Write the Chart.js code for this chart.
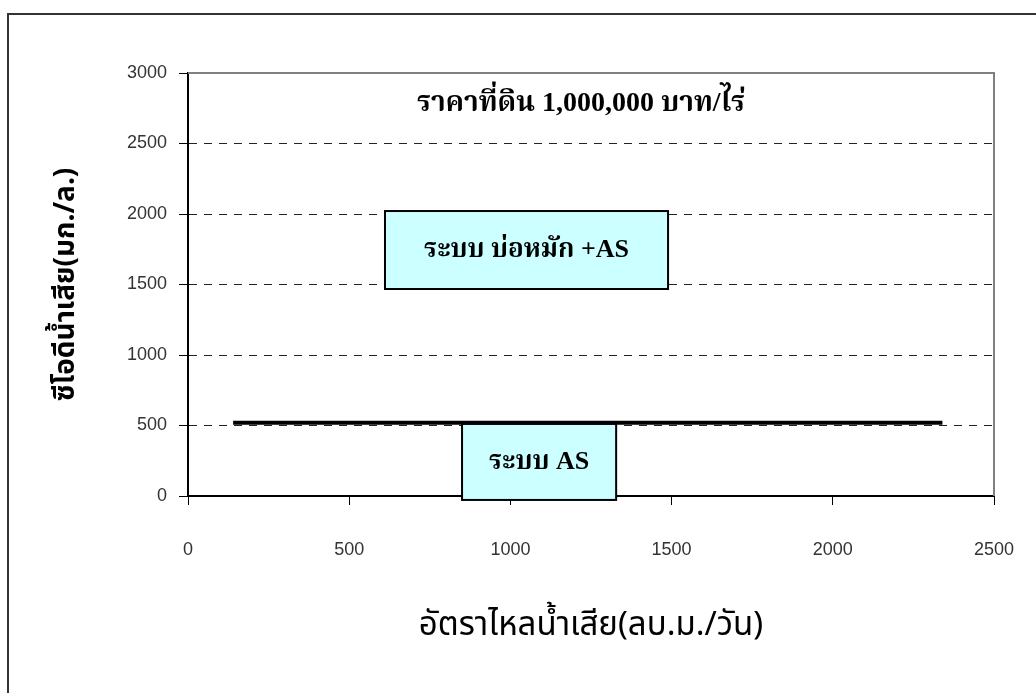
<!DOCTYPE html>
<html>
<head>
<meta charset="utf-8">
<script src="https://cdn.jsdelivr.net/npm/chart.js@4.4.1/dist/chart.umd.min.js"></script>
<style>
  html, body { margin: 0; padding: 0; background: #fff; overflow: hidden; }
  #frame { position: absolute; left: 7px; top: 13px; width: 1100px; height: 800px; border: 2px solid #333; }
  #wrap { position: absolute; left: 0; top: 0; width: 1036px; height: 693px; }
</style>
</head>
<body>
<div id="frame"></div>
<div id="wrap"><canvas id="chart" width="1036" height="693"></canvas></div>
<script>
// limit line (COD ~520 mg/l across the flow range)
const lineFlow = [140, 2340]
const lineCod = [520, 520]

// text boxes: label, x range (flow), y range (COD)
const boxLabels = ["ระบบ บ่อหมัก +AS", "ระบบ AS"]
const boxFlow = [[611, 1489], [850, 1328]]
const boxCod = [[1468, 2021], [-28, 511]]

const noteText = "ราคาที่ดิน 1,000,000 บาท/ไร่"
const notePos = [1219, 2780]

const xTicks = [0, 500, 1000, 1500, 2000, 2500]
const yTicks = [0, 500, 1000, 1500, 2000, 2500, 3000]

const thaiSans = "Tahoma, 'Noto Sans Thai', 'DejaVu Sans', sans-serif"
const thaiSerif = "'Liberation Serif', 'Noto Serif Thai', serif"

const boxPlugin = {
  id: "boxes",
  beforeDatasetsDraw(chart) {
    const { ctx, chartArea } = chart
    ctx.save()
    // plot frame (top and right in grey)
    ctx.strokeStyle = "#808080"
    ctx.lineWidth = 2
    ctx.beginPath()
    ctx.moveTo(chartArea.left, chartArea.top)
    ctx.lineTo(chartArea.right, chartArea.top)
    ctx.lineTo(chartArea.right, chartArea.bottom)
    ctx.stroke()
    ctx.restore()
  },
  afterDatasetsDraw(chart) {
    const { ctx, scales: { x, y } } = chart
    ctx.save()
    ctx.textAlign = "center"
    ctx.textBaseline = "middle"
    boxLabels.forEach((label, i) => {
      const x0 = x.getPixelForValue(boxFlow[i][0])
      const x1 = x.getPixelForValue(boxFlow[i][1])
      const y0 = y.getPixelForValue(boxCod[i][1])
      const y1 = y.getPixelForValue(boxCod[i][0])
      ctx.fillStyle = "#ccffff"
      ctx.fillRect(x0, y0, x1 - x0, y1 - y0)
      ctx.strokeStyle = "#000"
      ctx.lineWidth = 2
      ctx.strokeRect(x0, y0, x1 - x0, y1 - y0)
      ctx.fillStyle = "#000"
      ctx.font = "bold 26px " + thaiSerif
      ctx.fillText(label, (x0 + x1) / 2, (y0 + y1) / 2)
    })
    ctx.font = "bold 28px " + thaiSerif
    ctx.fillStyle = "#000"
    ctx.fillText(noteText, x.getPixelForValue(notePos[0]), y.getPixelForValue(notePos[1]))
    ctx.restore()
  }
}

const tickFont = { family: "'Liberation Sans', Arial, sans-serif", size: 18 }

const ctx = document.getElementById("chart").getContext("2d")
new Chart(ctx, {
  type: "line",
  data: {
    datasets: [
      {
        data: lineFlow.map((v, i) => ({ x: v, y: lineCod[i] })),
        borderColor: "#000",
        borderWidth: 4,
        pointRadius: 0,
        fill: false
      }
    ]
  },
  options: {
    responsive: false,
    animation: false,
    layout: { padding: { top: 73, right: 42, left: 0, bottom: 0 } },
    plugins: {
      legend: { display: false },
      tooltip: { enabled: false }
    },
    scales: {
      x: {
        type: "linear",
        min: 0,
        max: 2500,
        afterFit: (scale) => {
          scale.height = 197
          scale.paddingLeft = 0
          scale.paddingRight = 0
        },
        afterBuildTicks: (scale) => { scale.ticks = xTicks.map(v => ({ value: v })) },
        border: { color: "#000", width: 2 },
        grid: { drawOnChartArea: false, drawTicks: true, tickLength: 9, color: "#000", tickWidth: 1 },
        ticks: {
          padding: 34,
          color: "#333",
          font: tickFont,
          callback: (v) => String(v)
        },
        title: {
          display: true,
          text: "อัตราไหลน้ำเสีย(ลบ.ม./วัน)",
          color: "#000",
          font: { family: thaiSans, size: 33 },
          padding: { top: 0, bottom: 45 }
        }
      },
      y: {
        min: 0,
        max: 3000,
        afterFit: (scale) => {
          scale.width = 188
          scale.paddingTop = 0
          scale.paddingBottom = 0
        },
        afterBuildTicks: (scale) => { scale.ticks = yTicks.map(v => ({ value: v })) },
        border: { color: "#000", width: 2, dash: [8, 7] },
        grid: {
          color: (c) => c.tick && c.tick.value === 3000 ? "rgba(0,0,0,0)" : "#222",
          lineWidth: 1,
          tickBorderDash: [],
          tickColor: "#000",
          tickLength: 9
        },
        ticks: {
          padding: 12,
          color: "#333",
          font: tickFont,
          callback: (v) => String(v)
        },
        title: {
          display: true,
          text: "ซีโอดีน้ำเสีย(มก./ล.)",
          color: "#000",
          font: { family: thaiSans, size: 28, weight: "bold" },
          padding: { top: 52, bottom: 0 }
        }
      }
    }
  },
  plugins: [boxPlugin]
})
</script>
</body>
</html>
